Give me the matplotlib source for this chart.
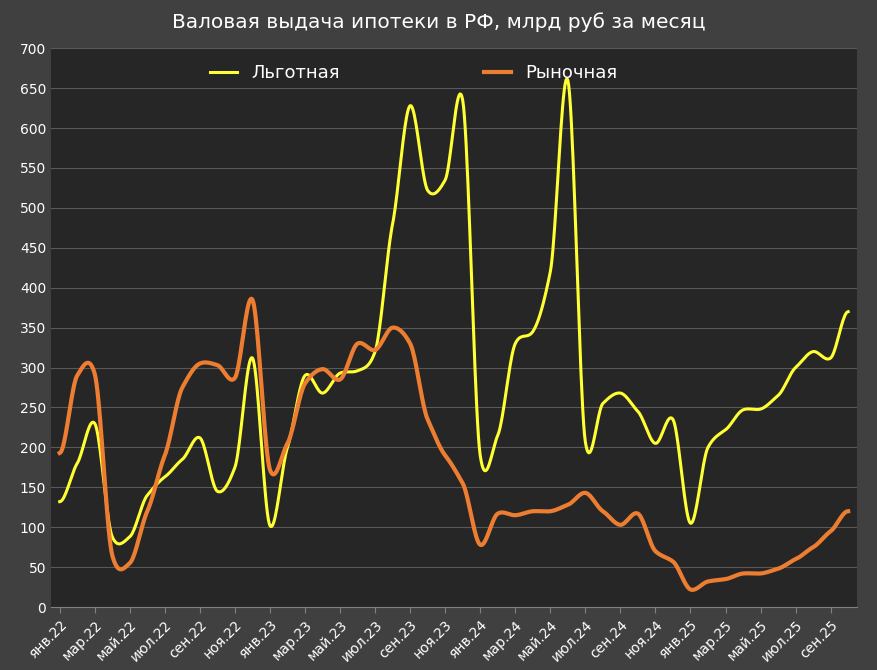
import numpy as np
import matplotlib
matplotlib.use("Agg")
import matplotlib.pyplot as plt

months = ["янв","фев","мар","апр","май","июн","июл","авг","сен","окт","ноя","дек"]
labels = [f"{months[i%12]}.{22+i//12}" for i in range(46)]
lgot = [132,180,230,88,88,140,163,185,212,145,175,312,102,200,290,268,293,296,320,480,628,522,535,635,
        190,215,330,345,420,660,207,255,268,245,205,235,105,200,222,247,248,265,300,320,312,370]
rynok = [193,290,292,65,55,120,190,275,305,303,287,385,172,205,280,298,285,330,322,350,330,235,190,155,
         78,117,115,120,120,128,143,120,103,117,70,57,22,32,35,42,42,48,60,75,95,120]

def smooth(y, n=20, k=0.7):
    y = np.asarray(y, float); N = len(y)
    m = np.zeros(N)
    m[1:-1] = k*(y[2:]-y[:-2])/2
    xs, ys = [], []
    for i in range(N-1):
        t = np.linspace(0,1,n,endpoint=False)
        h00=2*t**3-3*t**2+1; h10=t**3-2*t**2+t; h01=-2*t**3+3*t**2; h11=t**3-t**2
        ys.append(h00*y[i]+h10*m[i]+h01*y[i+1]+h11*m[i+1]); xs.append(i+t)
    xs.append([N-1]); ys.append([y[-1]])
    return np.concatenate(xs), np.concatenate(ys)

fig = plt.figure(figsize=(8.78,6.70), dpi=100, facecolor="#404040")
ax = fig.add_axes([0.058,0.094,0.918,0.834], facecolor="#262626")
ax.plot(*smooth(lgot), color="#ffff33", lw=2.2, label="Льготная")
ax.plot(*smooth(rynok), color="#ed7d31", lw=3, label="Рыночная")
ax.set_ylim(0,700); ax.set_xlim(-0.5,45.5)
ax.set_yticks(range(0,701,50))
ax.set_xticks(range(0,46,2)); ax.set_xticklabels(labels[::2], rotation=45, ha="right", rotation_mode="anchor")
ax.grid(axis="y", color="#595959", lw=0.8)
for s in ax.spines.values(): s.set_visible(False)
ax.spines["bottom"].set_visible(True); ax.spines["bottom"].set_color("#808080")
ax.tick_params(colors="white", labelsize=10, length=0)
ax.tick_params(axis="x", length=4, color="#808080")
ax.legend(loc="upper center", ncol=2, frameon=False, labelcolor="white", fontsize=13,
          columnspacing=8, handlelength=1.5, bbox_to_anchor=(0.45,1.0))
fig.text(0.5,0.967,"Валовая выдача ипотеки в РФ, млрд руб за месяц", color="white", fontsize=14.5, ha="center", va="center")
fig.savefig("out.png", facecolor=fig.get_facecolor())
